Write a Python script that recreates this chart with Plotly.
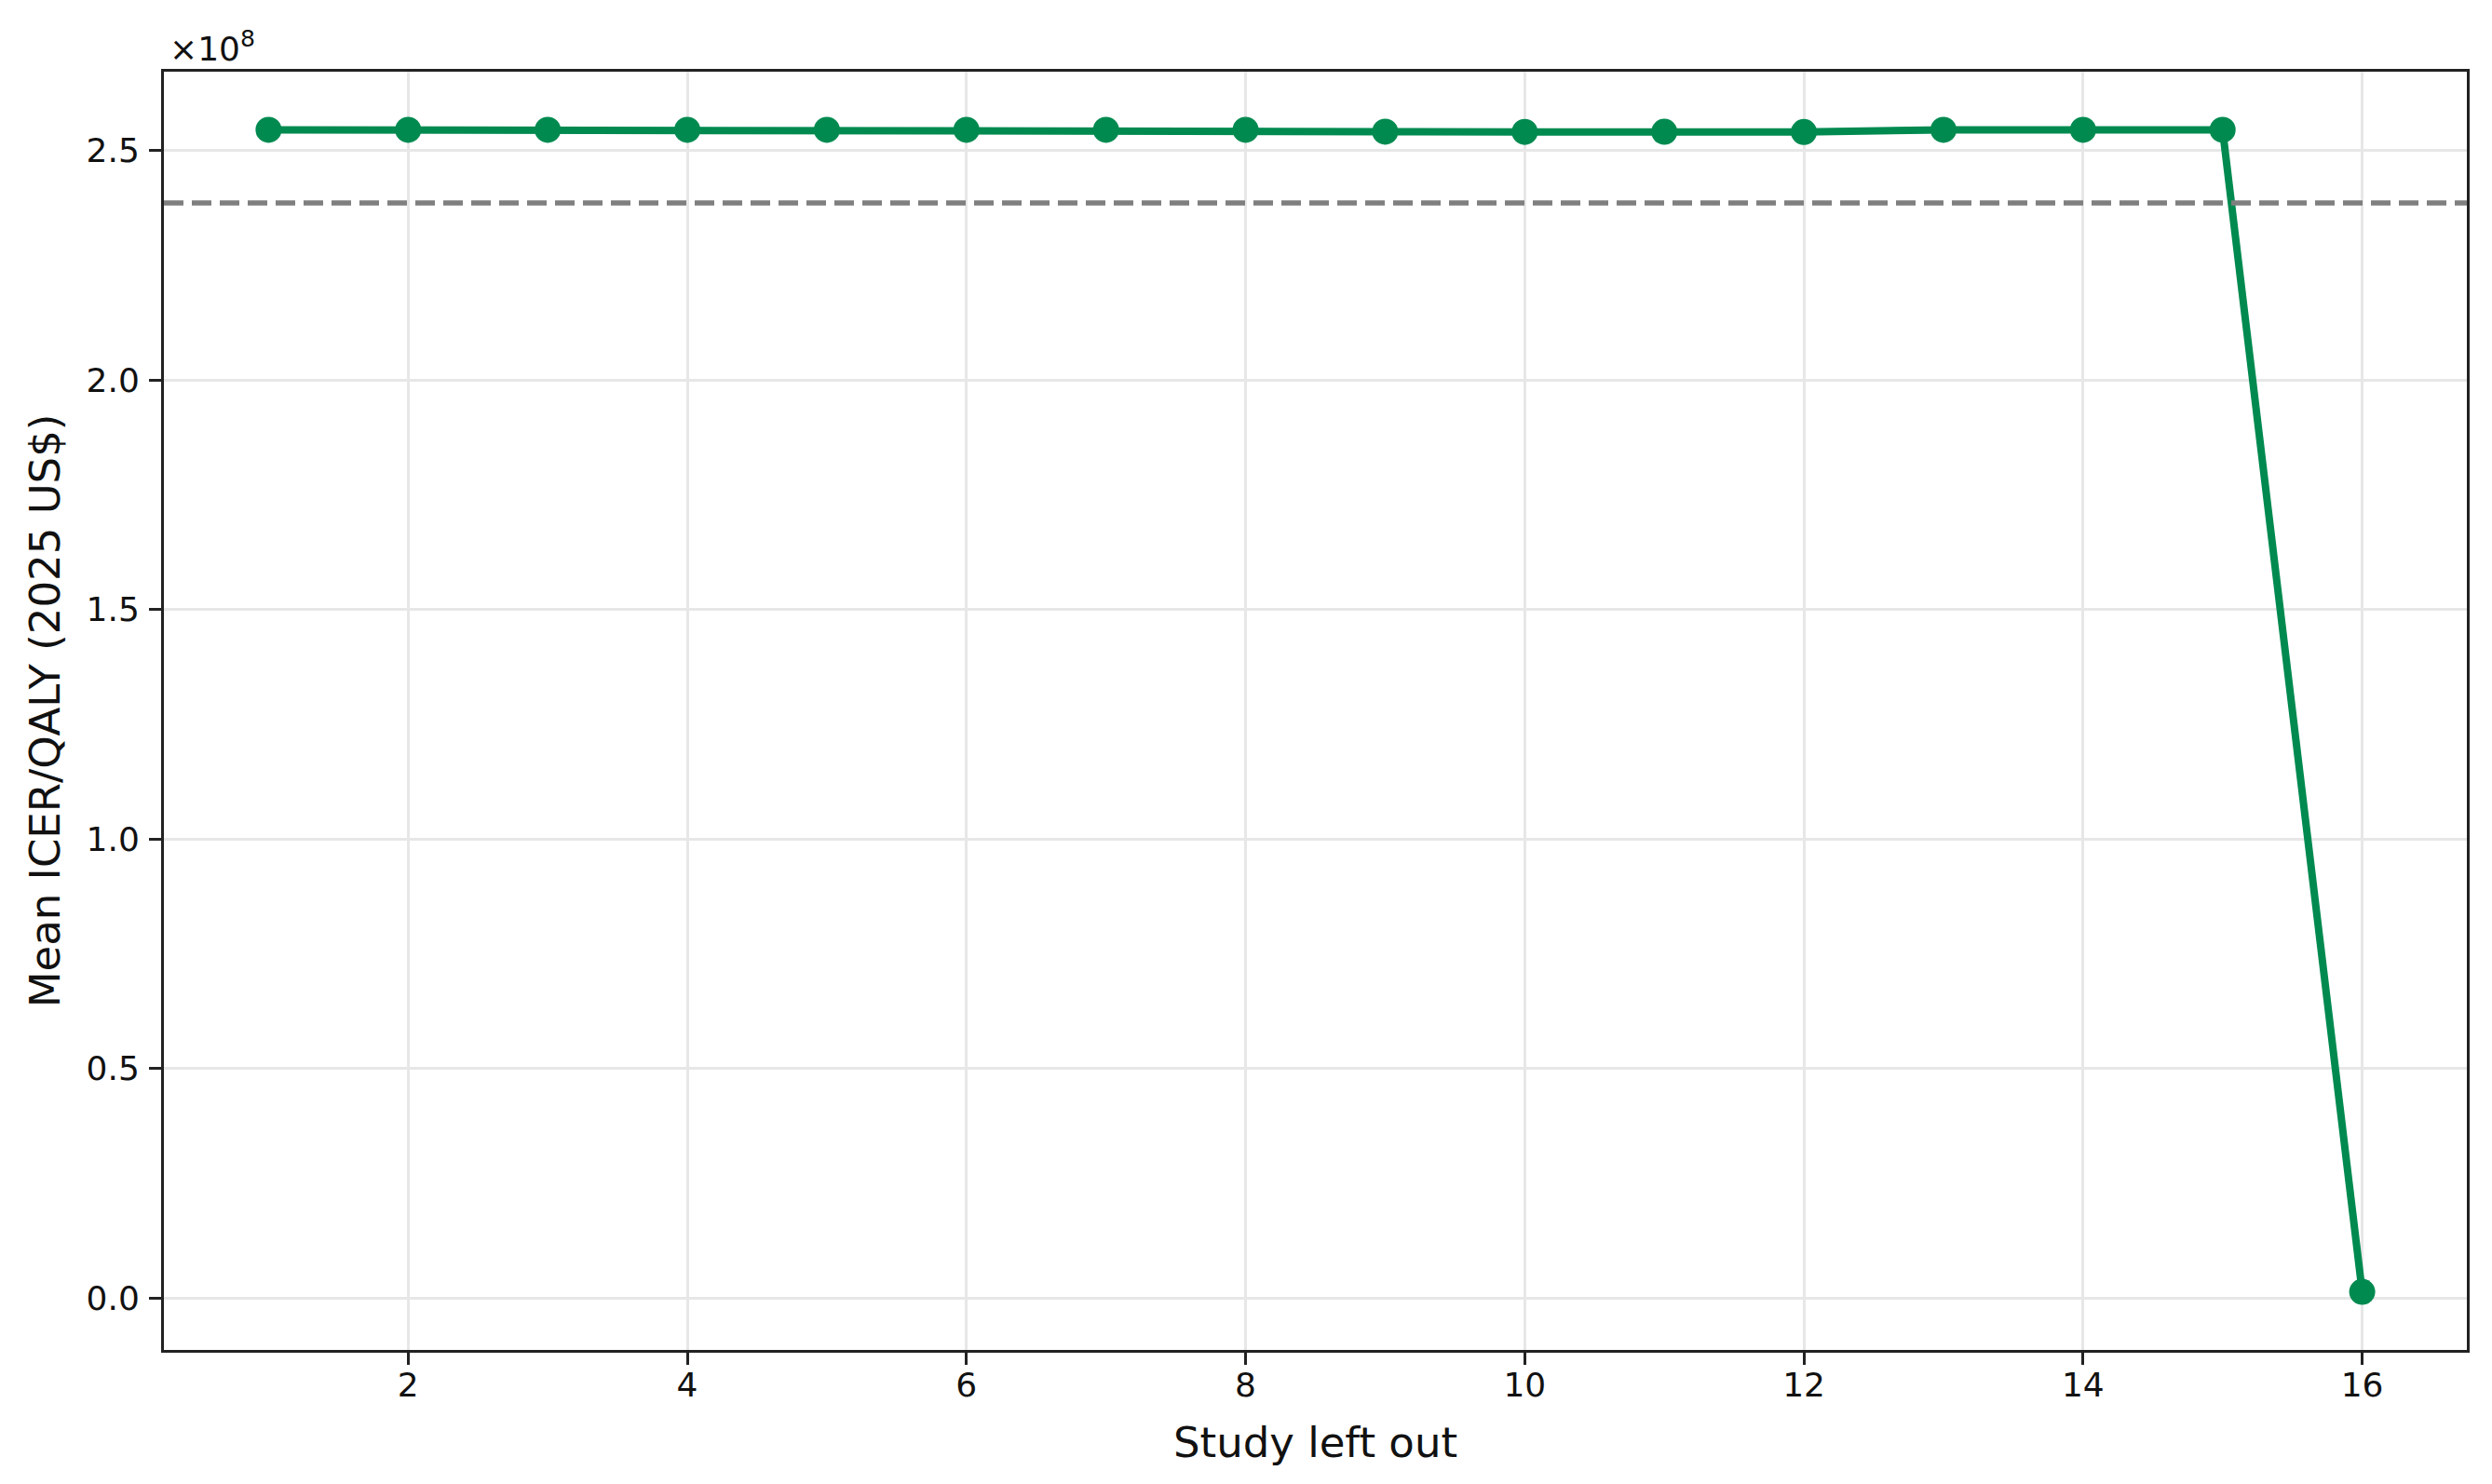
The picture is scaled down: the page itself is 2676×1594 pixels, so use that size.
import plotly.graph_objects as go

# leave-one-out sensitivity: mean ICER/QALY after dropping each study
study_left_out = [1, 2, 3, 4, 5, 6, 7, 8, 9, 10, 11, 12, 13, 14, 15, 16]
mean_icer = [2.5455e8, 2.5455e8, 2.5455e8, 2.5455e8, 2.5455e8, 2.5455e8, 2.5455e8, 2.5455e8,
             2.5415e8, 2.5410e8, 2.5412e8, 2.5405e8, 2.5455e8, 2.5455e8, 2.5455e8, 0.013e8]
overall_mean = 2.386e8

x_ticks = [2, 4, 6, 8, 10, 12, 14, 16]
y_ticks = [0.0, 0.5e8, 1.0e8, 1.5e8, 2.0e8, 2.5e8]
y_tick_labels = ["0.0", "0.5", "1.0", "1.5", "2.0", "2.5"]

GREEN = "#008a50"
FONT = "DejaVu Sans"

# matplotlib-like 5% autoscale margins
xpad = 0.05 * (max(study_left_out) - min(study_left_out))
ypad = 0.05 * (max(mean_icer) - min(mean_icer))

fig = go.Figure()
fig.add_trace(go.Scatter(
    x=study_left_out, y=mean_icer, mode="lines+markers",
    line=dict(color=GREEN, width=8),
    marker=dict(color=GREEN, size=28),
    showlegend=False,
))
fig.add_hline(y=overall_mean, line=dict(color="#7f7f7f", width=5.5, dash="21px,9px"), layer="above")

axis_common = dict(
    showgrid=True, gridcolor="#e7e7e7", gridwidth=2.5,
    showline=True, linecolor="#222222", linewidth=3, mirror=True,
    ticks="outside", ticklen=13, tickwidth=3, tickcolor="#222222",
    zeroline=False,
    tickfont=dict(family=FONT, size=36, color="#111111"),
)

fig.update_xaxes(
    range=[min(study_left_out) - xpad, max(study_left_out) + xpad],
    tickvals=x_ticks,
    title=dict(text="Study left out", font=dict(family=FONT, size=45, color="#111111"), standoff=27),
    ticklabelstandoff=-9,
    **axis_common,
)
fig.update_yaxes(
    range=[min(mean_icer) - ypad, max(mean_icer) + ypad],
    tickvals=y_ticks, ticktext=y_tick_labels,
    title=dict(text="Mean ICER/QALY (2025 US$)", font=dict(family=FONT, size=45, color="#111111"), standoff=14),
    ticklabelstandoff=3,
    **axis_common,
)

fig.add_annotation(
    text="×10<sup>8</sup>", xref="paper", yref="paper", x=0, y=1,
    xanchor="left", yanchor="bottom", xshift=4, yshift=2, showarrow=False,
    font=dict(family=FONT, size=36, color="#111111"),
)

fig.update_layout(
    width=2660, height=1578,
    margin=dict(l=168, r=19, t=69, b=136),
    plot_bgcolor="white", paper_bgcolor="white",
    font=dict(family=FONT),
)

fig.write_html("out.html")
